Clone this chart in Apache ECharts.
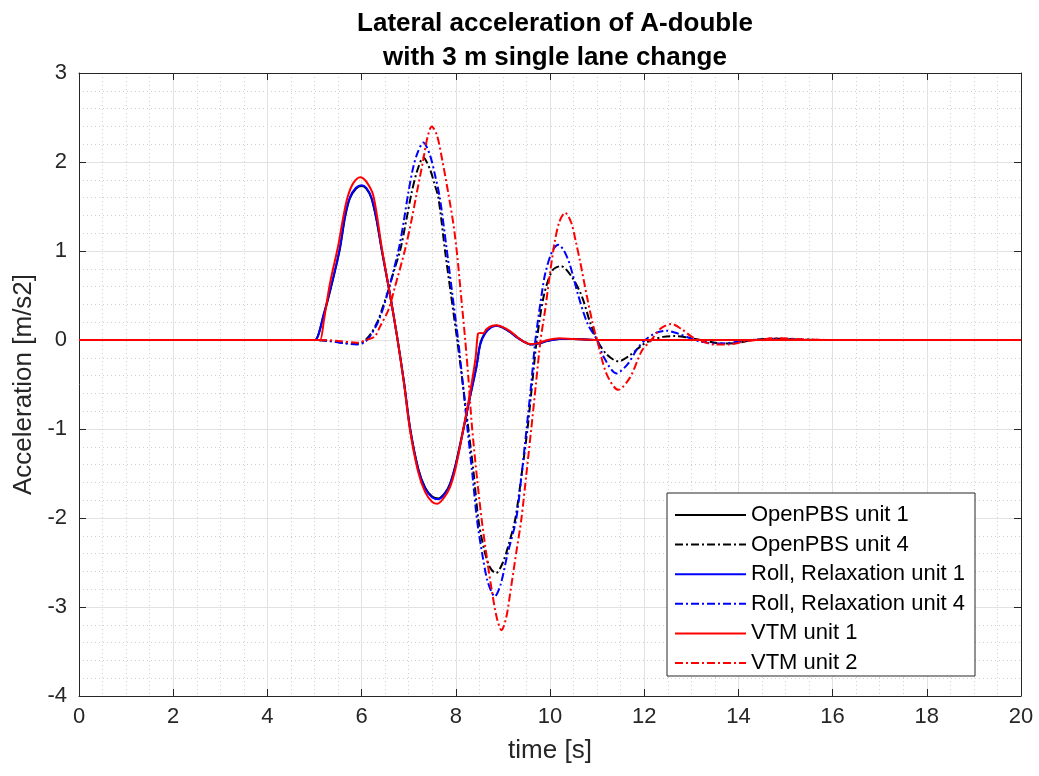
<!DOCTYPE html>
<html>
<head>
<meta charset="utf-8">
<script src="https://cdn.jsdelivr.net/npm/echarts@6/dist/echarts.min.js"></script>
<style>
html,body{margin:0;padding:0;background:#fff;}
#chart{width:1039px;height:776px;}
</style>
</head>
<body>
<div id="chart"></div>
<script>
// ---- data ----
const seriesNames = ['OpenPBS unit 1', 'OpenPBS unit 4', 'Roll, Relaxation unit 1', 'Roll, Relaxation unit 4', 'VTM unit 1', 'VTM unit 2'];
const xTicks = [0, 2, 4, 6, 8, 10, 12, 14, 16, 18, 20];
const yTicks = [-4, -3, -2, -1, 0, 1, 2, 3];

const openPBS1T = [0, 4.9, 5.01, 5.2, 5.35, 5.53, 5.65, 5.75, 5.88, 6.0, 6.1, 6.21, 6.32, 6.43, 6.6, 6.75, 6.9, 7.03, 7.2, 7.35, 7.5, 7.63, 7.78, 7.88, 8.0, 8.16, 8.3, 8.44, 8.52, 8.62, 8.75, 8.87, 9.0, 9.15, 9.3, 9.45, 9.58, 9.75, 9.95, 10.2, 10.5, 11.0, 20];
const openPBS1A = [0, 0, 0, 0.29, 0.59, 1.0, 1.38, 1.59, 1.7, 1.73, 1.7, 1.59, 1.34, 1.0, 0.52, 0.05, -0.47, -0.99, -1.44, -1.66, -1.76, -1.78, -1.71, -1.61, -1.39, -1.0, -0.64, -0.29, -0.04, 0.08, 0.15, 0.16, 0.14, 0.09, 0.03, -0.02, -0.05, -0.04, -0.01, 0.01, 0.01, 0, 0];

const openPBS4T = [0, 5.0, 5.3, 5.6, 5.85, 6.0, 6.1, 6.21, 6.35, 6.43, 6.55, 6.7, 6.82, 6.95, 7.06, 7.18, 7.31, 7.45, 7.55, 7.63, 7.77, 7.9, 8.03, 8.15, 8.27, 8.38, 8.48, 8.6, 8.72, 8.85, 9.0, 9.12, 9.26, 9.4, 9.52, 9.62, 9.72, 9.87, 10.05, 10.23, 10.45, 10.67, 10.85, 11.0, 11.2, 11.45, 11.7, 11.95, 12.16, 12.4, 12.65, 12.9, 13.2, 13.5, 13.75, 14.0, 14.3, 14.8, 15.3, 16, 20];
const openPBS4A = [0, 0, -0.01, -0.03, -0.045, -0.03, 0.01, 0.08, 0.22, 0.34, 0.53, 0.8, 1.01, 1.35, 1.65, 1.9, 2.05, 1.92, 1.75, 1.6, 1.01, 0.5, 0.0, -0.5, -1.01, -1.5, -2.02, -2.35, -2.55, -2.62, -2.5, -2.3, -2.02, -1.5, -1.01, -0.5, 0.0, 0.5, 0.78, 0.83, 0.72, 0.5, 0.2, 0.0, -0.16, -0.24, -0.17, -0.06, 0.0, 0.035, 0.045, 0.03, 0.0, -0.03, -0.04, -0.03, 0.0, 0.015, 0.005, 0, 0];

const roll1T = [0, 4.9, 5.01, 5.2, 5.35, 5.53, 5.65, 5.75, 5.88, 6.0, 6.1, 6.21, 6.32, 6.43, 6.6, 6.75, 6.9, 7.03, 7.2, 7.35, 7.5, 7.63, 7.78, 7.88, 8.0, 8.16, 8.3, 8.44, 8.52, 8.62, 8.75, 8.87, 9.0, 9.15, 9.3, 9.45, 9.58, 9.75, 9.95, 10.2, 10.5, 11.0, 20];
const roll1A = [0, 0, 0, 0.3, 0.6, 1.01, 1.4, 1.6, 1.71, 1.74, 1.71, 1.6, 1.35, 1.01, 0.52, 0.05, -0.48, -1.0, -1.45, -1.67, -1.77, -1.79, -1.72, -1.62, -1.4, -1.01, -0.65, -0.3, -0.05, 0.07, 0.14, 0.16, 0.14, 0.09, 0.03, -0.02, -0.05, -0.04, -0.01, 0.01, 0.01, 0, 0];

const roll4T = [0, 5.0, 5.3, 5.6, 5.9, 6.05, 6.15, 6.2, 6.33, 6.46, 6.63, 6.8, 6.9, 6.99, 7.1, 7.2, 7.31, 7.45, 7.56, 7.66, 7.8, 7.93, 8.05, 8.15, 8.25, 8.35, 8.45, 8.56, 8.68, 8.83, 8.95, 9.1, 9.28, 9.4, 9.5, 9.6, 9.69, 9.82, 9.9, 10.05, 10.18, 10.3, 10.42, 10.6, 10.8, 11.0, 11.15, 11.41, 11.65, 11.85, 12.02, 12.25, 12.47, 12.7, 12.95, 13.2, 13.6, 14.0, 14.3, 14.8, 15.5, 20];
const roll4A = [0, 0, -0.01, -0.035, -0.05, -0.03, 0.02, 0.06, 0.18, 0.36, 0.68, 1.05, 1.35, 1.65, 1.95, 2.12, 2.22, 2.08, 1.85, 1.6, 1.05, 0.5, 0.0, -0.5, -1.01, -1.5, -2.02, -2.4, -2.72, -2.88, -2.75, -2.4, -2.02, -1.5, -1.01, -0.5, 0.0, 0.5, 0.75, 1.0, 1.07, 1.0, 0.85, 0.5, 0.18, 0.0, -0.2, -0.375, -0.27, -0.1, 0.0, 0.08, 0.105, 0.075, 0.025, -0.02, -0.04, -0.02, 0.0, 0.015, 0.0, 0];

const vtm1T = [0, 5.05, 5.12, 5.2, 5.33, 5.5, 5.6, 5.7, 5.82, 5.97, 6.1, 6.25, 6.43, 6.6, 6.75, 6.9, 7.03, 7.2, 7.35, 7.5, 7.61, 7.75, 7.88, 8.0, 8.16, 8.3, 8.42, 8.47, 8.52, 8.58, 8.65, 8.75, 8.87, 9.0, 9.15, 9.3, 9.45, 9.58, 9.75, 9.95, 10.2, 10.5, 11.0, 20];
const vtm1A = [0, 0, 0, 0.22, 0.64, 1.05, 1.35, 1.6, 1.76, 1.83, 1.78, 1.62, 1.03, 0.52, 0.05, -0.49, -1.02, -1.48, -1.71, -1.82, -1.84, -1.77, -1.65, -1.43, -1.0, -0.6, -0.2, 0.07, 0.08, 0.075, 0.12, 0.155, 0.165, 0.145, 0.1, 0.035, -0.02, -0.045, -0.035, 0.0, 0.02, 0.01, 0, 0];

const vtm2T = [0, 5.1, 5.5, 5.9, 6.1, 6.28, 6.39, 6.57, 6.71, 6.92, 7.05, 7.17, 7.3, 7.4, 7.49, 7.6, 7.72, 7.84, 7.95, 8.03, 8.12, 8.2, 8.27, 8.34, 8.45, 8.55, 8.66, 8.76, 8.87, 8.97, 9.07, 9.17, 9.28, 9.39, 9.5, 9.6, 9.7, 9.8, 9.9, 10.0, 10.1, 10.2, 10.32, 10.45, 10.55, 10.64, 10.78, 10.9, 11.0, 11.2, 11.45, 11.7, 11.95, 12.15, 12.35, 12.58, 12.8, 13.0, 13.2, 13.5, 13.8, 14.1, 14.4, 14.8, 15.3, 16, 20];
const vtm2A = [0, 0, -0.01, -0.03, 0.0, 0.04, 0.15, 0.34, 0.6, 1.01, 1.32, 1.65, 2.0, 2.28, 2.40, 2.3, 2.0, 1.65, 1.3, 0.95, 0.45, 0.0, -0.45, -0.95, -1.55, -2.02, -2.45, -2.8, -3.12, -3.26, -3.12, -2.79, -2.4, -2.02, -1.5, -1.01, -0.5, 0.0, 0.35, 0.75, 1.1, 1.33, 1.43, 1.32, 1.1, 0.88, 0.5, 0.2, 0.0, -0.38, -0.56, -0.42, -0.12, 0.0, 0.13, 0.18, 0.12, 0.04, -0.01, -0.05, -0.05, -0.02, 0.0, 0.02, 0.01, 0, 0];

// ---- build ----
const FONT = '"Liberation Sans", Arial, Helvetica, sans-serif';
const AX = '#262626';
const DASHDOT = [8, 3, 2, 3];
function pairs(t, a) { return t.map((v, i) => [v, a[i]]); }
const defs = [
  { t: openPBS1T, a: openPBS1A, color: '#000000', type: 'solid' },
  { t: openPBS4T, a: openPBS4A, color: '#000000', type: DASHDOT },
  { t: roll1T, a: roll1A, color: '#0000ff', type: 'solid' },
  { t: roll4T, a: roll4A, color: '#0000ff', type: DASHDOT },
  { t: vtm1T, a: vtm1A, color: '#ff0000', type: 'solid' },
  { t: vtm2T, a: vtm2A, color: '#ff0000', type: DASHDOT }
];
const series = defs.map((d, i) => ({
  name: seriesNames[i],
  type: 'line',
  data: pairs(d.t, d.a),
  smooth: 0.3,
  showSymbol: false,
  symbol: 'none',
  animation: false,
  color: d.color,
  lineStyle: { color: d.color, width: 2, type: d.type },
  z: 2 + i
}));

const xMin = xTicks[0], xMax = xTicks[xTicks.length - 1], xStep = xTicks[1] - xTicks[0];
const yMin = yTicks[0], yMax = yTicks[yTicks.length - 1], yStep = yTicks[1] - yTicks[0];

const chart = echarts.init(document.getElementById('chart'), null, { renderer: 'canvas' });
chart.setOption({
  animation: false,
  backgroundColor: '#ffffff',
  title: {
    text: 'Lateral acceleration of A-double\nwith 3 m single lane change',
    left: 550, top: 2, textAlign: 'center',
    textStyle: { fontFamily: FONT, fontSize: 26, fontWeight: 'bold', color: '#000', lineHeight: 34 }
  },
  grid: { left: 79, right: 18, top: 73, bottom: 80, containLabel: false },
  legend: {
    orient: 'vertical', left: 667, top: 493,
    itemWidth: 71, itemHeight: 12, itemGap: 7.6,
    padding: [11, 10, 2, 7],
    backgroundColor: '#ffffff', borderColor: AX, borderWidth: 1, borderRadius: 0,
    itemStyle: { opacity: 0 },
    textStyle: { fontFamily: FONT, fontSize: 22, color: '#000' },
    data: seriesNames
  },
  xAxis: [{
    type: 'value', min: xMin, max: xMax, interval: xStep, position: 'bottom',
    name: 'time [s]', nameLocation: 'middle', nameGap: 42,
    nameTextStyle: { fontFamily: FONT, fontSize: 26, color: AX },
    axisLine: { show: true, onZero: false, lineStyle: { color: AX, width: 1 } },
    axisTick: { show: true, inside: true, length: 7, lineStyle: { color: AX } },
    axisLabel: { fontFamily: FONT, fontSize: 22, color: AX, margin: 10 },
    splitLine: { show: true, lineStyle: { color: '#e2e2e2', width: 1 } },
    minorTick: { show: false, splitNumber: 4 },
    minorSplitLine: { show: true, lineStyle: { color: '#cfcfcf', width: 1, type: [1, 3] } }
  }, {
    type: 'value', min: xMin, max: xMax, interval: xStep, position: 'top',
    axisLine: { show: true, onZero: false, lineStyle: { color: AX, width: 1 } },
    axisTick: { show: true, inside: true, length: 7, lineStyle: { color: AX } },
    axisLabel: { show: false }, splitLine: { show: false }
  }],
  yAxis: [{
    type: 'value', min: yMin, max: yMax, interval: yStep, position: 'left',
    name: 'Acceleration [m/s2]', nameLocation: 'middle', nameGap: 36, nameRotate: 90,
    nameTextStyle: { fontFamily: FONT, fontSize: 26, color: AX },
    axisLine: { show: true, onZero: false, lineStyle: { color: AX, width: 1 } },
    axisTick: { show: true, inside: true, length: 7, lineStyle: { color: AX } },
    axisLabel: { fontFamily: FONT, fontSize: 22, color: AX, margin: 12 },
    splitLine: { show: true, lineStyle: { color: '#e2e2e2', width: 1 } },
    minorTick: { show: false, splitNumber: 5 },
    minorSplitLine: { show: true, lineStyle: { color: '#cfcfcf', width: 1, type: [1, 3] } }
  }, {
    type: 'value', min: yMin, max: yMax, interval: yStep, position: 'right',
    axisLine: { show: true, onZero: false, lineStyle: { color: AX, width: 1 } },
    axisTick: { show: true, inside: true, length: 7, lineStyle: { color: AX } },
    axisLabel: { show: false }, splitLine: { show: false }
  }],
  series: series
});
</script>
</body>
</html>
